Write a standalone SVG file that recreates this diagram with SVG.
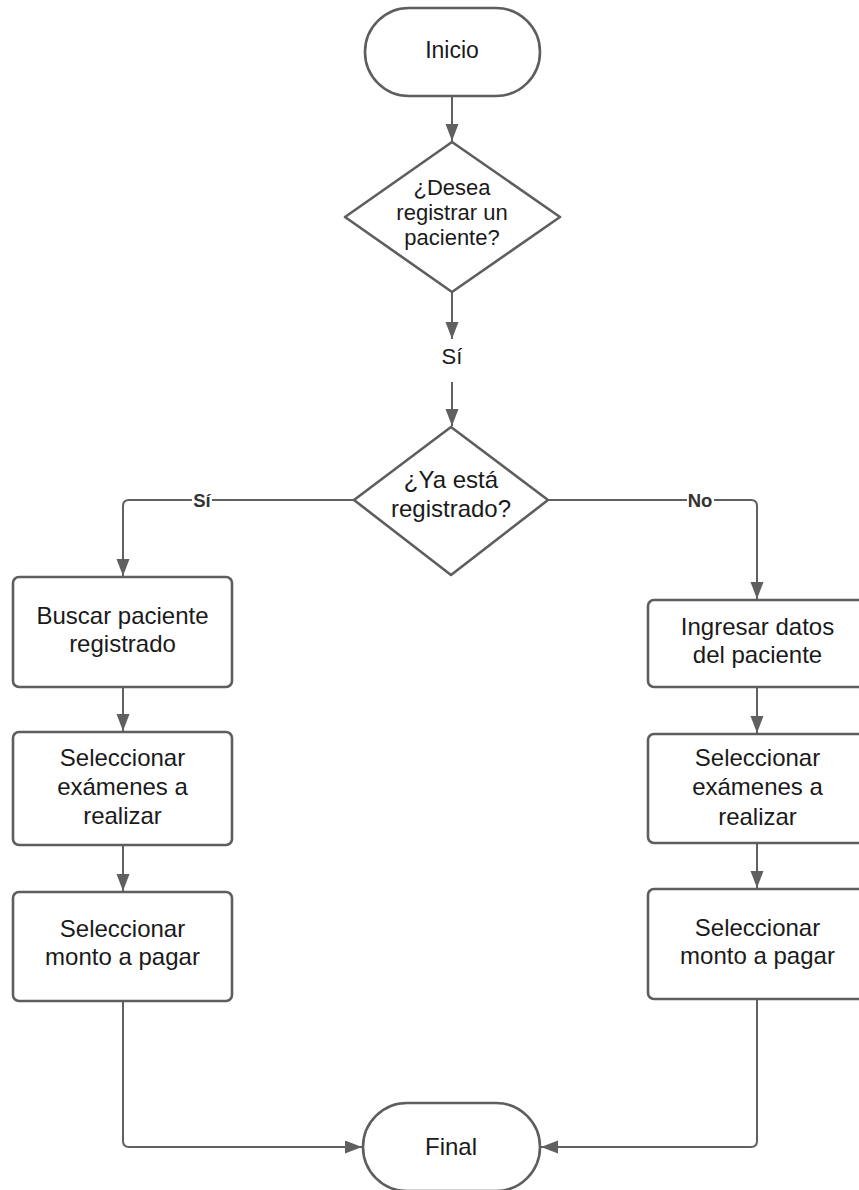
<svg xmlns="http://www.w3.org/2000/svg" width="859" height="1190" viewBox="0 0 859 1190">
  <style>
    .shape { fill: #ffffff; stroke: #5e5e5e; stroke-width: 2.6; stroke-linejoin: round; }
    .txt { font-family: "Liberation Sans", Arial, sans-serif; fill: #1a1a1a; text-anchor: middle; }
    .conn { fill: none; stroke: #606060; stroke-width: 2; }
    .lbl { font-family: "Liberation Sans", Arial, sans-serif; fill: #333333; text-anchor: middle; font-size: 18.5px; font-weight: bold; }
  </style>
  <defs>
    <marker id="arrow" markerUnits="userSpaceOnUse" markerWidth="18" markerHeight="14" refX="17" refY="6.5" orient="auto">
      <path d="M0,0 L17,6.5 L0,13 z" fill="#606060"/>
    </marker>
  </defs>
  <rect width="859" height="1190" fill="#ffffff"/>

  <!-- connectors -->
  <g id="connectors">
    <path class="conn" d="M452,97 V141" marker-end="url(#arrow)"/>
    <path class="conn" d="M452,293 V339" marker-end="url(#arrow)"/>
    <path class="conn" d="M452,382 V426" marker-end="url(#arrow)"/>
    <path class="conn" d="M354,500 H129 Q123,500 123,506 V576" marker-end="url(#arrow)"/>
    <path class="conn" d="M548,500 H751 Q757,500 757,506 V599" marker-end="url(#arrow)"/>
    <path class="conn" d="M123,688 V731" marker-end="url(#arrow)"/>
    <path class="conn" d="M123,846 V891" marker-end="url(#arrow)"/>
    <path class="conn" d="M757,688 V733" marker-end="url(#arrow)"/>
    <path class="conn" d="M757,844 V888" marker-end="url(#arrow)"/>
    <path class="conn" d="M123,1002 V1141 Q123,1147 129,1147 H362" marker-end="url(#arrow)"/>
    <path class="conn" d="M757,1000 V1141 Q757,1147 751,1147 H541" marker-end="url(#arrow)"/>
    <text class="txt" x="452" y="364" font-size="22">Sí</text>
    <rect x="192" y="490" width="20" height="20" fill="#ffffff"/>
    <text class="lbl" x="202" y="507">Sí</text>
    <rect x="687" y="490" width="27" height="20" fill="#ffffff"/>
    <text class="lbl" x="700" y="507">No</text>
  </g>

  <g id="inicio">
    <rect class="shape" x="365" y="8" width="175" height="88" rx="44" ry="44"/>
    <text class="txt" x="452" y="58" font-size="23">Inicio</text>
  </g>

  <g id="desea-registrar">
    <polygon class="shape" points="452,142 560,217 452,292 345,217"/>
    <text class="txt" x="452" y="195" font-size="22">¿Desea</text>
    <text class="txt" x="452" y="220" font-size="22">registrar un</text>
    <text class="txt" x="452" y="245" font-size="22">paciente?</text>
  </g>

  <g id="ya-registrado">
    <polygon class="shape" points="451,427 548,500 451,575 354,500"/>
    <text class="txt" x="451" y="488" font-size="24">¿Ya está</text>
    <text class="txt" x="451" y="517" font-size="24">registrado?</text>
  </g>

  <g id="buscar-paciente">
    <rect class="shape" x="13" y="577" width="219" height="110" rx="6"/>
    <text class="txt" x="122.5" y="624" font-size="24">Buscar paciente</text>
    <text class="txt" x="122.5" y="652" font-size="24">registrado</text>
  </g>

  <g id="examenes-izq">
    <rect class="shape" x="13" y="732" width="219" height="113" rx="6"/>
    <text class="txt" x="122.5" y="766" font-size="24">Seleccionar</text>
    <text class="txt" x="122.5" y="795" font-size="24">exámenes a</text>
    <text class="txt" x="122.5" y="824" font-size="24">realizar</text>
  </g>

  <g id="monto-izq">
    <rect class="shape" x="13" y="892" width="219" height="109" rx="6"/>
    <text class="txt" x="122.5" y="937" font-size="24">Seleccionar</text>
    <text class="txt" x="122.5" y="965" font-size="24">monto a pagar</text>
  </g>

  <g id="ingresar-datos">
    <rect class="shape" x="648" y="600" width="219" height="87" rx="6"/>
    <text class="txt" x="757.5" y="635" font-size="24">Ingresar datos</text>
    <text class="txt" x="757.5" y="663" font-size="24">del paciente</text>
  </g>

  <g id="examenes-der">
    <rect class="shape" x="648" y="734" width="219" height="109" rx="6"/>
    <text class="txt" x="757.5" y="766" font-size="24">Seleccionar</text>
    <text class="txt" x="757.5" y="795" font-size="24">exámenes a</text>
    <text class="txt" x="757.5" y="825" font-size="24">realizar</text>
  </g>

  <g id="monto-der">
    <rect class="shape" x="648" y="889" width="219" height="110" rx="6"/>
    <text class="txt" x="757.5" y="936" font-size="24">Seleccionar</text>
    <text class="txt" x="757.5" y="964" font-size="24">monto a pagar</text>
  </g>

  <g id="final">
    <rect class="shape" x="363" y="1103" width="177" height="88" rx="44" ry="44"/>
    <text class="txt" x="451" y="1155" font-size="24">Final</text>
  </g>
</svg>
